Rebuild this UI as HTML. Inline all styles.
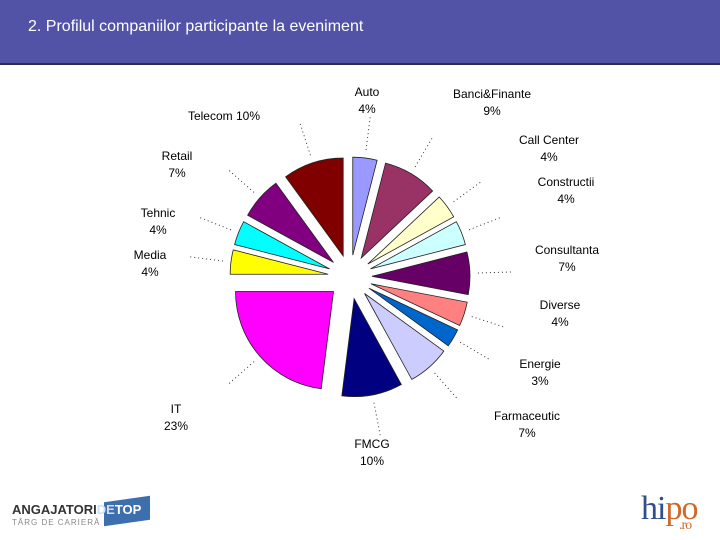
<!DOCTYPE html>
<html><head><meta charset="utf-8"><style>
body{margin:0;width:720px;height:540px;background:#fff;overflow:hidden;font-family:"Liberation Sans",sans-serif}
#hdr{position:absolute;left:0;top:0;width:720px;height:63px;background:#5252a6;border-bottom:2px solid #2b2b55}
#title{position:absolute;left:28px;top:18px;color:#fff;font-size:16px}
svg{position:absolute;left:0;top:0}
</style></head><body>
<div id="hdr"><div id="title">2. Profilul companiilor participante la eveniment</div></div>
<svg id="chart" width="720" height="540"></svg>
<div style="position:absolute;left:10px;top:498px;width:145px;height:30px">
<div style="position:absolute;left:94px;top:1px;width:46px;height:24px;background:#3d6fae;transform:skewY(-8deg)"></div>
<div style="position:absolute;left:2px;top:4px;font-weight:bold;font-size:13px;color:#333">ANGAJATORI<span style="color:#cfe0f5">DE</span><span style="color:#fff">TOP</span></div>
<div style="position:absolute;left:2px;top:20px;font-size:8px;color:#888;letter-spacing:1px">TÂRG DE CARIERĂ</div></div>
<div style="position:absolute;left:641px;top:490px;font-family:'Liberation Serif',serif;font-size:34px;color:#2f4e8c;letter-spacing:-1px">hi<span style="color:#d0682a">po</span><span style="position:absolute;left:38px;top:28px;font-size:14px;color:#d0682a">.ro</span></div>
<script>
const categories=["Auto","Banci&Finante","Call Center","Constructii","Consultanta","Diverse","Energie","Farmaceutic","FMCG","IT","Media","Tehnic","Retail","Telecom"];
const values=[4,9,4,4,7,4,3,7,10,23,4,4,7,10];
const colors=["#9999ff","#993366","#ffffcc","#ccffff","#660066","#ff8080","#0066cc","#ccccff","#000080","#ff00ff","#ffff00","#00ffff","#800080","#800000"];
const labelPos=[[367,96,"middle"],[492,98,"middle"],[549,144,"middle"],[566,186,"middle"],[567,254,"middle"],[560,309,"middle"],[540,368,"middle"],[527,420,"middle"],[372,448,"middle"],[176,413,"middle"],[150,259,"middle"],[158,217,"middle"],[177,160,"middle"]];
const svg=document.getElementById('chart');const NS='http://www.w3.org/2000/svg';
const cx=350,cy=277,R=98,D=22;
const total=values.reduce((a,b)=>a+b,0);
let acc=0;
function pt(a,r,ox,oy){return [ox+r*Math.sin(a),oy-r*Math.cos(a)];}
values.forEach((v,i)=>{
 const a0=acc/total*2*Math.PI;acc+=v;const a1=acc/total*2*Math.PI;const am=(a0+a1)/2;
 const [ox,oy]=pt(am,D,cx,cy);const p0=pt(a0,R,ox,oy),p1=pt(a1,R,ox,oy);
 const p=document.createElementNS(NS,'path');
 p.setAttribute('d',`M${ox},${oy}L${p0[0]},${p0[1]}A${R},${R} 0 ${a1-a0>Math.PI?1:0} 1 ${p1[0]},${p1[1]}Z`);
 p.setAttribute('fill',colors[i]);p.setAttribute('stroke','#222');p.setAttribute('stroke-width','0.8');
 
 
 svg.appendChild(p);
 const e=pt(am,R+D+8,cx,cy),f=pt(am,R+D+42,cx,cy);
 const l=document.createElementNS(NS,'line');
 l.setAttribute('x1',e[0]);l.setAttribute('y1',e[1]);l.setAttribute('x2',f[0]);l.setAttribute('y2',f[1]);
 l.setAttribute('stroke','#333');l.setAttribute('stroke-dasharray','1 3');
 
 
 svg.appendChild(l);
 let lp=labelPos[i]||[224,120,"middle"];
 const t=document.createElementNS(NS,'text');
 t.setAttribute('x',lp[0]);t.setAttribute('y',lp[1]);t.setAttribute('text-anchor',lp[2]);
 t.setAttribute('font-size','12');t.setAttribute('fill','#000');
 
 
 if(i===13){t.textContent=categories[i]+' '+v+'%';}
 else{const s1=document.createElementNS(NS,'tspan');s1.textContent=categories[i];s1.setAttribute('x',lp[0]);
 const s2=document.createElementNS(NS,'tspan');s2.textContent=v+'%';s2.setAttribute('x',lp[0]);s2.setAttribute('dy','17');
 t.appendChild(s1);t.appendChild(s2);}
 svg.appendChild(t);
});
</script>
</body></html>
